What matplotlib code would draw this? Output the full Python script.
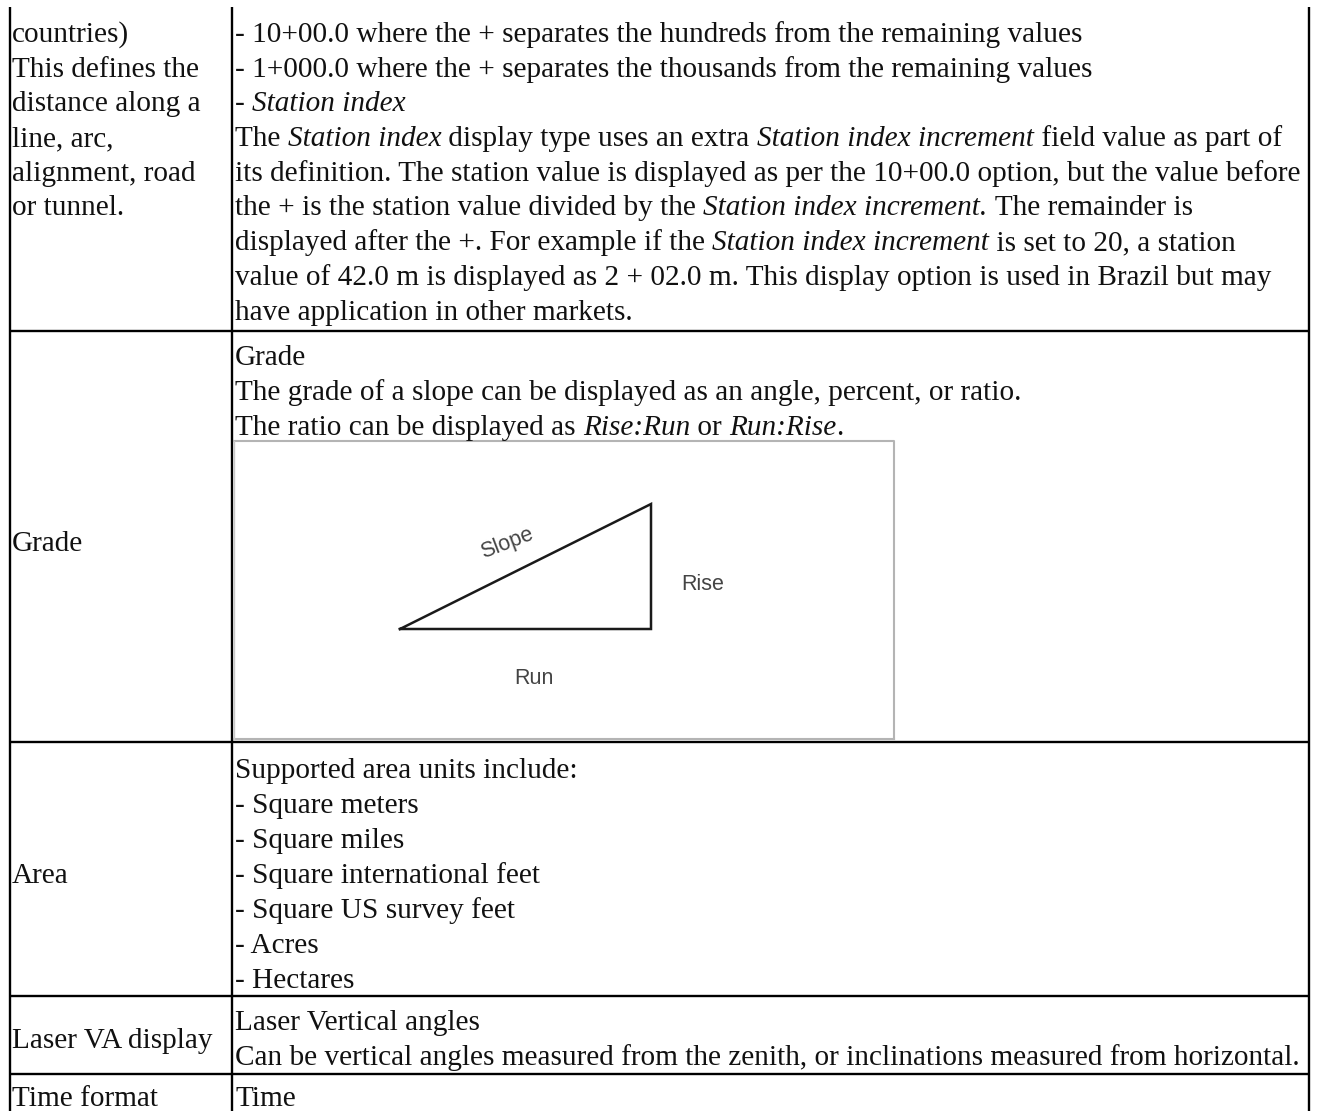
import matplotlib
matplotlib.use("Agg")
import matplotlib.pyplot as plt

# pixel layout of the table
col_lines = [9.5, 232, 1309]
row_lines = [331, 742, 995.5, 1073.5]
table_top = 7
table_bottom = 1111

# column 1 text: (baseline y, text)
left_lines = [
    (42, "countries)"),
    (77, "This defines the"),
    (111, "distance along a"),
    (146, "line, arc,"),
    (181, "alignment, road"),
    (215, "or tunnel."),
    (551, "Grade"),
    (883, "Area"),
    (1048, "Laser VA display"),
    (1106, "Time format"),
]

# column 2 text: (baseline y, [(text, italic), ...])
right_lines = [
    (42, [("- 10+00.0 where the + separates the hundreds from the remaining values", 0)]),
    (77, [("- 1+000.0 where the + separates the thousands from the remaining values", 0)]),
    (111, [("- ", 0), ("Station index", 1)]),
    (146, [("The ", 0), ("Station index", 1), (" display type uses an extra ", 0), ("Station index increment", 1), (" field value as part of", 0)]),
    (181, [("its definition. The station value is displayed as per the 10+00.0 option, but the value before", 0)]),
    (215, [("the + is the station value divided by the ", 0), ("Station index increment.", 1), (" The remainder is", 0)]),
    (250, [("displayed after the +. For example if the ", 0), ("Station index increment", 1), (" is set to 20, a station", 0)]),
    (285, [("value of 42.0 m is displayed as 2 + 02.0 m. This display option is used in Brazil but may", 0)]),
    (320, [("have application in other markets.", 0)]),
    (365, [("Grade", 0)]),
    (400, [("The grade of a slope can be displayed as an angle, percent, or ratio.", 0)]),
    (435, [("The ratio can be displayed as ", 0), ("Rise:Run", 1), (" or ", 0), ("Run:Rise", 1), (".", 0)]),
    (778, [("Supported area units include:", 0)]),
    (813, [("- Square meters", 0)]),
    (848, [("- Square miles", 0)]),
    (883, [("- Square international feet", 0)]),
    (918, [("- Square US survey feet", 0)]),
    (953, [("- Acres", 0)]),
    (988, [("- Hectares", 0)]),
    (1030, [("Laser Vertical angles", 0)]),
    (1065, [("Can be vertical angles measured from the zenith, or inclinations measured from horizontal.", 0)]),
    (1106, [("Time", 0)]),
]

# embedded slope picture
triangle_x = [400, 651, 651, 400]
triangle_y = [629, 629, 504, 629]
pic_labels = [
    (507, 543, "Slope", 21),
    (703, 585, "Rise", 0),
    (534, 679, "Run", 0),
]

fig = plt.figure(figsize=(13.18, 11.11), dpi=100)
ax = fig.add_axes([0, 0, 1, 1])
ax.set_xlim(0, 1318)
ax.set_ylim(1111, 0)
ax.axis("off")

FS = 21.08
SERIF = "Liberation Serif"


def width_of(s, style):
    # the bar keeps trailing spaces in the measurement
    r = fig.canvas.get_renderer()
    a = ax.text(0, 0, s + "|", family=SERIF, style=style, fontsize=FS)
    b = ax.text(0, 0, "|", family=SERIF, style=style, fontsize=FS)
    w = a.get_window_extent(r).width - b.get_window_extent(r).width
    a.remove()
    b.remove()
    return w


for x in col_lines:
    ax.plot([x, x], [table_top, table_bottom], color="black", lw=1.7, solid_capstyle="butt")
for y in row_lines:
    ax.plot([col_lines[0], col_lines[2]], [y, y], color="black", lw=1.7, solid_capstyle="butt")

for y, s in left_lines:
    ax.text(12, y, s, family=SERIF, fontsize=FS, va="baseline", color="#111111")

for y, runs in right_lines:
    x = 235
    for s, it in runs:
        style = "italic" if it else "normal"
        ax.text(x, y, s, family=SERIF, style=style, fontsize=FS, va="baseline", color="#111111")
        x += width_of(s, style)

# picture frame
ax.plot([234, 894, 894], [441, 441, 739], color="#b4b4b4", lw=1.5)
ax.plot([234, 894], [739, 739], color="#b4b4b4", lw=1.5)
ax.plot([234, 234], [441, 739], color="#c8c8c8", lw=1.0)

ax.plot(triangle_x, triangle_y, color="#1a1a1a", lw=1.8, solid_joinstyle="miter")
for x, y, s, rot in pic_labels:
    ax.text(x, y, s, family="Liberation Sans", fontsize=15.5, color="#444444",
            rotation=rot, ha="center", va="center", rotation_mode="anchor")

fig.savefig("out.png", dpi=100, facecolor="white")
